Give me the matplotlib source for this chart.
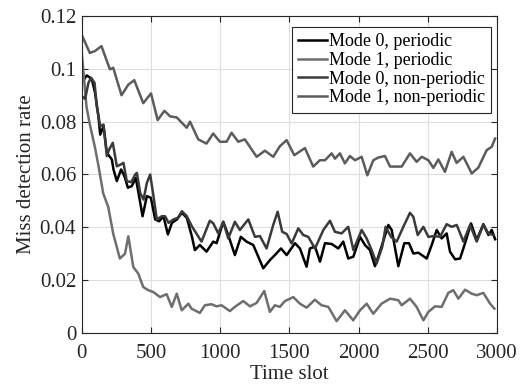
import matplotlib
matplotlib.use("Agg")
import matplotlib.pyplot as plt
from matplotlib.ticker import FuncFormatter

# values
m0p_x = [0, 36, 72, 96, 120, 133, 157, 181, 217, 229, 253, 284, 308, 333, 361, 390, 414, 439, 470, 499,
         530, 559, 590, 622, 651, 687, 723, 759, 795, 817, 853, 901, 950, 974, 1022, 1058, 1106, 1149, 1190,
         1239, 1311, 1359, 1395, 1439, 1480, 1540, 1576, 1624, 1648, 1685, 1721, 1757, 1805, 1853, 1889,
         1925, 1962, 2010, 2046, 2082, 2118, 2154, 2215, 2239, 2287, 2330, 2364, 2395, 2432, 2492, 2528,
         2564, 2600, 2636, 2660, 2697, 2733, 2769, 2812, 2853, 2901, 2938, 2962, 2986]
m0p_y = [0.0947, 0.0975, 0.0962, 0.0909, 0.082, 0.0751, 0.0783, 0.0682, 0.0657, 0.0619, 0.0575, 0.0619,
         0.0594, 0.055, 0.0556, 0.0587, 0.0518, 0.0442, 0.0518, 0.0512, 0.043, 0.0423, 0.0442, 0.0373,
         0.0417, 0.043, 0.0455, 0.0436, 0.0366, 0.0314, 0.0333, 0.0308, 0.0346, 0.034, 0.0421, 0.0371,
         0.0295, 0.0364, 0.0346, 0.0333, 0.0245, 0.0276, 0.0295, 0.032, 0.0295, 0.034, 0.032, 0.0251,
         0.032, 0.0327, 0.027, 0.034, 0.0337, 0.032, 0.0346, 0.0282, 0.0289, 0.0364, 0.0333, 0.0314,
         0.0253, 0.0308, 0.0409, 0.039, 0.0253, 0.034, 0.034, 0.0301, 0.0304, 0.0282, 0.0333, 0.039,
         0.0358, 0.0377, 0.0308, 0.0279, 0.0282, 0.034, 0.0415, 0.0352, 0.0412, 0.0371, 0.039, 0.0355]

m1p_x = [0, 34, 58, 94, 118, 155, 191, 227, 275, 312, 336, 372, 408, 444, 481, 517, 565, 613, 650, 686,
         722, 770, 793, 853, 889, 937, 973, 1010, 1070, 1106, 1166, 1215, 1263, 1318, 1359, 1395, 1431,
         1468, 1528, 1576, 1624, 1684, 1732, 1781, 1841, 1901, 1961, 2010, 2058, 2106, 2166, 2227, 2287,
         2311, 2371, 2419, 2468, 2504, 2552, 2600, 2648, 2684, 2721, 2769, 2817, 2853, 2901, 2950, 2981]
m1p_y = [0.106, 0.0856, 0.079, 0.0705, 0.064, 0.0528, 0.0477, 0.0376, 0.0282, 0.030, 0.0366, 0.025,
         0.0225, 0.0174, 0.0162, 0.0155, 0.0136, 0.0147, 0.0099, 0.0149, 0.0086, 0.0111, 0.0092, 0.0076,
         0.0105, 0.0109, 0.0101, 0.0105, 0.0083, 0.0099, 0.0121, 0.0101, 0.0114, 0.0159, 0.008, 0.0105,
         0.0099, 0.0121, 0.0136, 0.0111, 0.0096, 0.0126, 0.0105, 0.0099, 0.0045, 0.0086, 0.0048, 0.0086,
         0.0111, 0.0073, 0.0111, 0.013, 0.0124, 0.0105, 0.013, 0.0099, 0.0048, 0.008, 0.0101, 0.0099,
         0.0152, 0.0162, 0.013, 0.0164, 0.0149, 0.0143, 0.0152, 0.0111, 0.0092]

m0n_x = [0, 24, 48, 67, 92, 108, 133, 157, 181, 198, 224, 253, 282, 301, 325, 357, 386, 398, 422, 446,
         470, 494, 518, 542, 578, 602, 627, 663, 694, 723, 759, 795, 865, 925, 950, 986, 1022, 1058, 1106,
         1142, 1203, 1251, 1287, 1335, 1383, 1415, 1448, 1480, 1516, 1564, 1600, 1636, 1685, 1745, 1793,
         1829, 1877, 1925, 1962, 2022, 2058, 2094, 2130, 2171, 2195, 2234, 2275, 2323, 2371, 2395, 2427,
         2468, 2504, 2547, 2588, 2636, 2672, 2709, 2757, 2805, 2853, 2901, 2938, 2974]
m0n_y = [0.0897, 0.0886, 0.0947, 0.0966, 0.0947, 0.0859, 0.0783, 0.0789, 0.067, 0.0695, 0.072, 0.0631,
         0.0638, 0.0644, 0.0575, 0.0571, 0.06, 0.0606, 0.053, 0.0505, 0.0568, 0.06, 0.0518, 0.043, 0.0442,
         0.0442, 0.0417, 0.043, 0.0436, 0.0461, 0.0442, 0.0404, 0.0346, 0.0425, 0.0415, 0.0377, 0.0421,
         0.0358, 0.0421, 0.039, 0.043, 0.0364, 0.0367, 0.032, 0.0409, 0.0459, 0.0383, 0.0375, 0.0339,
         0.0396, 0.0371, 0.0364, 0.032, 0.039, 0.0425, 0.0383, 0.0377, 0.0402, 0.0314, 0.039, 0.0358,
         0.0314, 0.0263, 0.0327, 0.0402, 0.0364, 0.0346, 0.0402, 0.0455, 0.044, 0.0371, 0.0402, 0.0364,
         0.0367, 0.0364, 0.0412, 0.0402, 0.0409, 0.0346, 0.0409, 0.0346, 0.0409, 0.0377, 0.0371]

m1n_x = [0, 58, 94, 142, 203, 227, 287, 336, 379, 444, 500, 548, 597, 638, 686, 758, 782, 841, 901, 949,
         998, 1046, 1082, 1130, 1178, 1263, 1323, 1383, 1431, 1480, 1535, 1612, 1672, 1720, 1757, 1805,
         1829, 1865, 1901, 1937, 1974, 2022, 2063, 2106, 2142, 2190, 2227, 2263, 2311, 2371, 2419, 2456,
         2504, 2540, 2576, 2624, 2672, 2708, 2757, 2817, 2865, 2925, 2962, 2986]
m1n_y = [0.1128, 0.106, 0.1067, 0.1086, 0.0998, 0.1004, 0.090, 0.094, 0.0957, 0.087, 0.0907, 0.0806,
         0.0841, 0.082, 0.0816, 0.0777, 0.080, 0.0733, 0.0717, 0.0755, 0.0724, 0.0724, 0.0758, 0.0724,
         0.0733, 0.0667, 0.069, 0.0667, 0.0707, 0.073, 0.0673, 0.070, 0.063, 0.0654, 0.0654, 0.068, 0.066,
         0.068, 0.0642, 0.067, 0.0654, 0.0667, 0.0597, 0.0654, 0.0664, 0.067, 0.063, 0.063, 0.063, 0.068,
         0.0648, 0.0667, 0.0654, 0.0625, 0.0657, 0.061, 0.0686, 0.0644, 0.0667, 0.0604, 0.0626, 0.0692,
         0.0705, 0.0736]

labels = ["Mode 0, periodic", "Mode 1, periodic", "Mode 0, non-periodic", "Mode 1, non-periodic"]
colors = ["#000000", "#6e6e6e", "#3a3a3a", "#5c5c5c"]

plt.rcParams['font.family'] = ['Liberation Serif', 'DejaVu Serif']

fig = plt.figure(figsize=(5.21, 3.87), dpi=100)
ax = fig.add_axes([0.157, 0.1395, 0.797, 0.8192])

series = [(m0p_x, m0p_y), (m1p_x, m1p_y), (m0n_x, m0n_y), (m1n_x, m1n_y)]
for (xs, ys), lab, c in zip(series, labels, colors):
    ax.plot(xs, ys, color=c, lw=1.8, label=lab)

ax.set_xlim(0, 3000)
ax.set_ylim(0, 0.12)
ax.set_xticks(range(0, 3001, 500))
ax.set_yticks([0, 0.02, 0.04, 0.06, 0.08, 0.1, 0.12])
ax.yaxis.set_major_formatter(FuncFormatter(lambda v, p: "%g" % round(v, 2)))
ax.grid(True, color="#dfdfdf", lw=0.8)
ax.set_axisbelow(True)
ax.tick_params(direction="in", top=True, right=True, labelsize=15, length=4, pad=4,
               color="#262626", labelcolor="#262626")
ax.tick_params(axis="x", pad=8)
for s in ax.spines.values():
    s.set_color("#262626")
    s.set_linewidth(0.8)

ax.set_xlabel("Time slot", fontsize=15, color="#262626", labelpad=1)
ax.set_ylabel("Miss detection rate", fontsize=15, color="#262626", labelpad=3)

leg = ax.legend(loc="upper right", bbox_to_anchor=(0.986, 0.966), borderaxespad=0,
                fontsize=13, handlelength=1.6, handletextpad=0.1, labelspacing=0.1,
                borderpad=0.35, fancybox=False, framealpha=1)
leg.get_frame().set_edgecolor("#262626")
leg.get_frame().set_linewidth(0.8)

fig.savefig("out.png", dpi=100)
